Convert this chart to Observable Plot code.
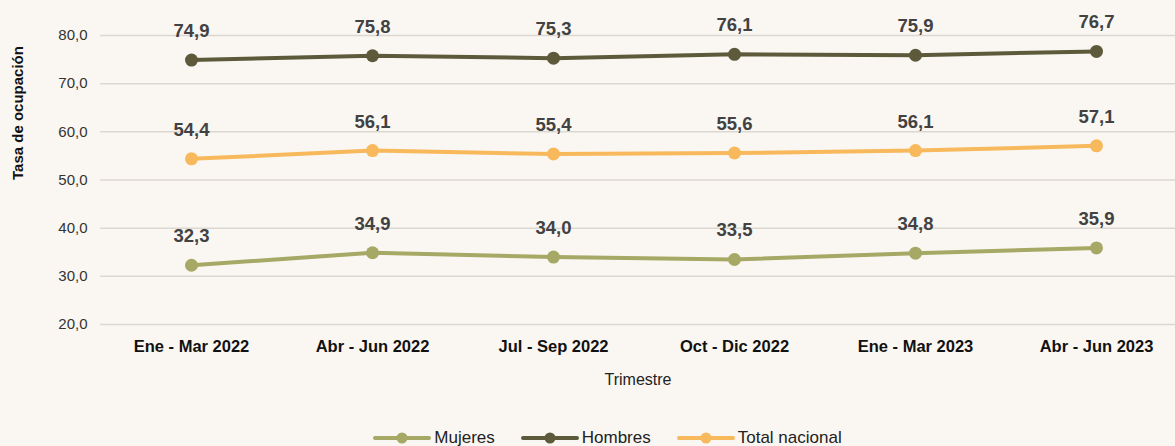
<!DOCTYPE html>
<html>
<head>
<meta charset="utf-8">
<script src="https://cdn.jsdelivr.net/npm/d3@7"></script>
<script src="https://cdn.jsdelivr.net/npm/@observablehq/plot@0.6"></script>
<style>
  html, body { margin: 0; padding: 0; background: #faf7f2; }
  body { width: 1175px; height: 446px; overflow: hidden; font-family: "Liberation Sans Narrow", "Liberation Sans", sans-serif; font-stretch: condensed; }
  svg { font-stretch: condensed; }
  #legend { display: flex; justify-content: center; gap: 26px; font-size: 17px; color: #222; height: 20px; align-items: center; margin-left: 40px; }
  #legend .item { display: flex; align-items: center; gap: 3px; }
</style>
</head>
<body>
<div id="chart"></div>
<div id="legend"></div>
<script>
const categories = ["Ene - Mar 2022", "Abr - Jun 2022", "Jul - Sep 2022", "Oct - Dic 2022", "Ene - Mar 2023", "Abr - Jun 2023"];
const seriesNames = ["Mujeres", "Hombres", "Total nacional"];
const mujeres = [32.3, 34.9, 34.0, 33.5, 34.8, 35.9];
const hombres = [74.9, 75.8, 75.3, 76.1, 75.9, 76.7];
const total = [54.4, 56.1, 55.4, 55.6, 56.1, 57.1];
const yTicks = [20, 30, 40, 50, 60, 70, 80];
const colors = ["#a6a866", "#5d5a3b", "#f7b95c"];

const values = [mujeres, hombres, total];
const data = [];
seriesNames.forEach((s, i) => categories.forEach((c, j) => data.push({serie: s, cat: c, value: values[i][j]})));

const fmt = v => v.toFixed(1).replace(".", ",");
const font = `"Liberation Sans Narrow", "Liberation Sans", sans-serif`;

const chart = Plot.plot({
  width: 1175,
  height: 428,
  marginLeft: 100,
  marginRight: 0,
  marginTop: 35,
  marginBottom: 104,
  style: {background: "#faf7f2", fontFamily: font, color: "#333"},
  x: {type: "point", domain: categories, range: [191, 1096], padding: 0, label: null},
  y: {domain: [20, 80], label: null},
  color: {domain: seriesNames, range: colors},
  marks: [
    Plot.ruleY(yTicks, {stroke: "#dcd8d1", strokeWidth: 1.5}),
    Plot.axisY({ticks: yTicks, tickSize: 0, tickPadding: 13, tickFormat: fmt, fontSize: 15, fill: "#333", label: null}),
    Plot.axisX({tickSize: 0, tickPadding: 16, fontSize: 16.5, fontWeight: "bold", fill: "#111", label: null}),
    Plot.text(["Trimestre"], {frameAnchor: "bottom", dy: 60, fontSize: 16, fill: "#222"}),
    Plot.text(["Tasa de ocupación"], {frameAnchor: "left", dx: -82, rotate: -90, fontSize: 15, fontWeight: "bold", fill: "#111"}),
    Plot.line(data, {x: "cat", y: "value", z: "serie", stroke: "serie", strokeWidth: 4}),
    Plot.dot(data, {x: "cat", y: "value", fill: "serie", r: 6.5}),
    Plot.text(data, {x: "cat", y: "value", text: d => fmt(d.value), dy: -29, fontSize: 18.5, fontWeight: "bold", fill: "#424242"})
  ]
});
document.getElementById("chart").appendChild(chart);

const legend = document.getElementById("legend");
seriesNames.forEach((s, i) => {
  const item = document.createElement("div");
  item.className = "item";
  item.innerHTML = `<svg width="58" height="14"><line x1="2" x2="56" y1="7" y2="7" stroke="${colors[i]}" stroke-width="4" stroke-linecap="round"/><circle cx="29" cy="7" r="5.5" fill="${colors[i]}"/></svg><span>${s}</span>`;
  legend.appendChild(item);
});
</script>
</body>
</html>
